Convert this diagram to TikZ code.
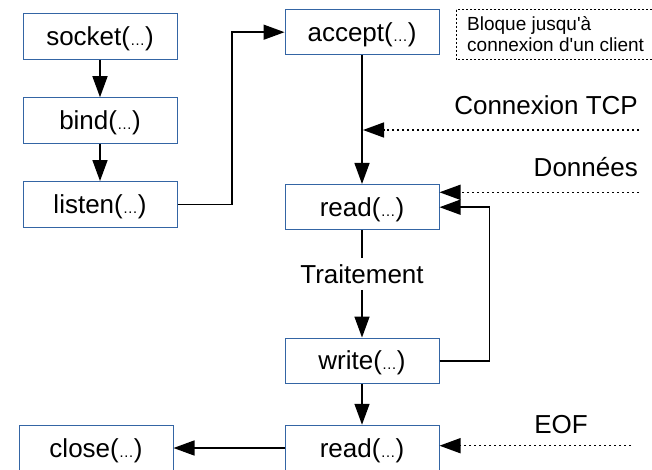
\documentclass[tikz,border=0pt]{standalone}
\usepackage{fontspec}
\setmainfont{Liberation Sans}[Ligatures=TeXOff]
\usetikzlibrary{arrows.meta}
\definecolor{boxblue}{HTML}{3465A4}
\newcommand{\dd}{{\fontsize{15}{18}\selectfont …}}
\begin{document}
\begin{tikzpicture}[x=1pt,y=-1pt,
  fn/.style={draw=boxblue,line width=1pt,minimum width=154pt,minimum height=45.5pt,
    inner sep=0pt,text height=23.5pt,text depth=5.5pt,font=\fontsize{26}{31}\selectfont},
  lbl/.style={inner sep=0pt,font=\fontsize{26}{31}\selectfont},
  small/.style={inner sep=0pt,font=\fontsize{19}{21}\selectfont},
  conn/.style={line width=1.5pt,-{Triangle[length=21pt,width=15pt]}},
  dconn/.style={conn,dash pattern=on 2.5pt off 2.5pt},
  plain/.style={line width=1.5pt}]
\useasboundingbox (0,0) rectangle (652,470);
% left column
\node[fn] (socket) at (100,36.5) {socket(\dd)};
\node[fn] (bind) at (100,120.5) {bind(\dd)};
\node[fn] (listen) at (100,204.3) {listen(\dd)};
\node[fn] (close) at (96,448) {close(\dd)};
% right column
\node[fn] (accept) at (362,32.2) {accept(\dd)};
\node[fn] (read1) at (362,207.2) {read(\dd)};
\node[fn] (write) at (362,360.8) {write(\dd)};
\node[fn] (read2) at (362,448) {read(\dd)};
% note box
\draw[line width=1pt,dash pattern=on 2pt off 2pt] (456,10) rectangle (660,60);
\node[small,anchor=base west] (blq1) at (467,30.7) {Bloque jusqu'à};
\node[small,anchor=base west] (blq2) at (467,51.7) {connexion d'un client};
% labels
\node[lbl,anchor=base east] (tcp) at (638,114.3) {Connexion TCP};
\node[lbl,anchor=base east] (donnees) at (638,176.7) {Données};
\node[lbl,anchor=base] (eof) at (561,433.3) {EOF};
\node[lbl,anchor=base,inner ysep=6pt] (trait) at (362,283.3) {Traitement};
% coordinates
\coordinate (bendx) at (232,0);
\coordinate (loopx) at (489.3,0);
\coordinate (tcpstart) at (639,130);
\coordinate (tcpend) at (363,130);
\coordinate (dstart) at (639,192.3);
\coordinate (estart) at (631,445.7);
% connectors
\draw[conn] (socket) -- (bind);
\draw[conn] (bind) -- (listen);
\draw[conn] (listen.east) -- (listen.east -| bendx) |- (accept.west);
\draw[conn] (accept) -- (read1);
\draw[plain] (read1) -- (trait);
\draw[conn] (trait) -- (write);
\draw[conn] (write.east) -- (write.east -| loopx) |- (read1.east);
\draw[conn] (write) -- (read2);
\draw[conn] (read2) -- (close);
\draw[dconn] (tcpstart) -- (tcpend);
\draw[dconn] (dstart) -- (dstart -| read1.east);
\draw[dconn] (estart) -- (estart -| read2.east);
\end{tikzpicture}
\end{document}
